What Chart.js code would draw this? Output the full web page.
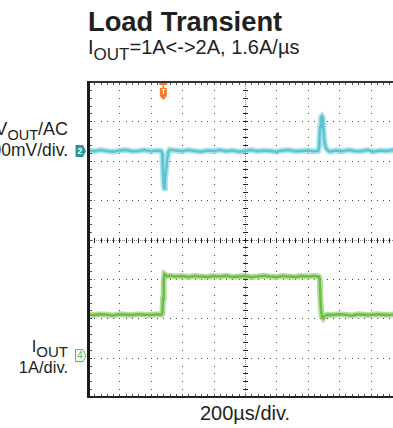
<!DOCTYPE html>
<html><head><meta charset="utf-8">
<script src="https://cdn.jsdelivr.net/npm/chart.js@4"></script>
<style>
html,body{margin:0;padding:0;width:393px;height:428px;overflow:hidden;background:#fff;font-family:"Liberation Sans",Arial,sans-serif;color:#231f20}
.t{position:absolute;white-space:nowrap}
#wrap{position:absolute;left:70px;top:80px;width:336px;height:320px}
</style></head><body>
<div class="t" style="left:88px;top:8.3px;font-size:27.3px;line-height:27.3px;font-weight:bold">Load Transient</div>
<div class="t" style="left:88px;top:37.4px;font-size:20px;line-height:20px">I<span style="font-size:17px;position:relative;top:5.7px">OUT</span>=1A&lt;-&gt;2A, 1.6A/µs</div>
<div class="t" style="right:325px;top:120.3px;font-size:18px;line-height:18px">V<span style="font-size:14.5px;position:relative;top:4.5px">OUT</span>/AC</div>
<div class="t" style="right:325px;top:141.7px;font-size:17.5px;line-height:17.5px">100mV/div.</div>
<div class="t" style="right:325px;top:338.3px;font-size:16.5px;line-height:16.5px">I<span style="font-size:15px;position:relative;top:4.4px">OUT</span></div>
<div class="t" style="right:325px;top:359.3px;font-size:16.5px;line-height:16.5px">1A/div.</div>
<div class="t" style="left:245px;top:403.2px;font-size:20px;line-height:20px;transform:translateX(-50%)">200µs/div.</div>
<div id="wrap"><canvas id="c"></canvas></div>
<script>
// ---- scope settings ----
const timePerDivUs = 200;
const voutMvPerDiv = 100;
const voutRefDiv = 2.25;   // channel 2 ground marker position (divisions above centre)
const ioutAPerDiv = 1;
const ioutRefDiv = -3;     // channel 4 ground marker position
const triggerUs = 480;

// ---- channel 2 : VOUT (AC, mV) ----
const voutTimeUs = [0,40,80,120,160,200,240,280,320,360,400,440,
  466,472,477,482,486,490,495,500,506,512,520,
  560,600,640,680,720,760,800,840,880,920,960,1000,1040,1080,1120,1160,1200,1240,1280,1320,1360,1400,1440,
  1466,1472,1478,1484,1490,1496,1502,1508,1516,1526,1540,
  1580,1620,1660,1700,1740,1780,1820,1860,1900,1940,1980,2000];
const voutMv = [1,-1,2,0,-2,1,2,-1,0,2,-1,1,
  0,-6,-45,-88,-95,-75,-55,-40,-18,-2,3,
  1,-1,2,0,-2,1,0,2,-1,1,-2,0,2,-1,1,0,-2,1,2,-1,0,1,-1,
  0,10,60,85,88,84,38,18,7,2,-2,
  1,-1,2,0,-1,2,-2,1,0,2,-1,1];

// ---- channel 4 : IOUT (A) ----
const ioutTimeUs = [0,40,80,120,160,200,240,280,320,360,400,440,
  468,474,478,482,487,494,502,520,
  560,600,640,680,720,760,800,840,880,920,960,1000,1040,1080,1120,1160,1200,1240,1280,1320,1360,1400,1440,
  1470,1476,1481,1486,1491,1498,1506,1516,1530,
  1560,1600,1640,1680,1720,1760,1800,1840,1880,1920,1960,2000];
const ioutA = [1.09,1.08,1.10,1.09,1.07,1.10,1.09,1.08,1.10,1.09,1.08,1.10,
  1.09,1.12,1.5,1.95,2.12,2.10,2.07,2.08,
  2.06,2.07,2.05,2.07,2.06,2.05,2.07,2.06,2.08,2.05,2.06,2.07,2.05,2.06,2.08,2.06,2.05,2.07,2.06,2.05,2.07,2.06,2.07,
  2.06,2.0,1.45,1.15,1.03,1.0,1.05,1.08,1.09,
  1.08,1.10,1.09,1.07,1.10,1.09,1.08,1.10,1.09,1.08,1.10,1.09];

const vPts = voutTimeUs.map((t,i)=>({x:t,y:voutMv[i]}));
const iPts = ioutTimeUs.map((t,i)=>({x:t,y:ioutA[i]}));

const scopePlugin = {
  id:'scope',
  beforeDatasetsDraw(chart){
    const {ctx, chartArea:a, scales:{x, yI}} = chart;
    const xp = d => x.getPixelForValue(d*timePerDivUs);
    const yp = d => yI.getPixelForValue((d - ioutRefDiv)*ioutAPerDiv);
    ctx.save();
    // dotted grid
    ctx.fillStyle = '#4a4a4a';
    for (let i=1;i<10;i++){
      if (i===5) continue;
      const X = Math.round(xp(i));
      for (let k=0;k<=40;k++){ const Y=Math.round(yp(-4+k/5)); ctx.fillRect(X,Y,1,1); }
    }
    for (let j=-3;j<=3;j++){
      if (j===0) continue;
      const Y = Math.round(yp(j));
      for (let k=0;k<=50;k++){ const X=Math.round(xp(k/5)); ctx.fillRect(X,Y,1,1); }
    }
    // centre cross
    const cx = Math.round(xp(5)), cy = Math.round(yp(0));
    ctx.fillStyle = '#8a8a8a';
    for (let Y=a.top; Y<a.bottom; Y+=2) ctx.fillRect(cx,Y,1,1);
    for (let X=a.left; X<a.right; X+=2) ctx.fillRect(X,cy,1,1);
    ctx.fillStyle = '#222';
    for (let k=0;k<=40;k++){ const Y=Math.round(yp(-4+k/5)); ctx.fillRect(cx-2,Y,5,1); }
    for (let k=0;k<=50;k++){ const X=Math.round(xp(k/5)); ctx.fillRect(X,cy-2,1,5); }
    ctx.restore();
  },
  afterDatasetsDraw(chart){
    const {ctx, chartArea:a, scales:{x, yV, yI}} = chart;
    const xp = d => x.getPixelForValue(d*timePerDivUs);
    const yp = d => yI.getPixelForValue((d - ioutRefDiv)*ioutAPerDiv);
    ctx.save();
    const w = a.right - a.left;
    // borders
    ctx.fillStyle = '#333';
    ctx.fillRect(a.left, a.top-1, w, 2);
    ctx.fillStyle = '#222';
    ctx.fillRect(a.left, a.bottom-1, w, 2);
    ctx.fillStyle = '#1a1a1a';
    ctx.fillRect(a.left-1, a.top-1, 3, a.bottom-a.top+2);
    // border minor ticks
    ctx.fillStyle = '#555';
    for (let k=1;k<=50;k++){ const X=Math.round(xp(k/5)); ctx.fillRect(X,a.top+1,1,2); ctx.fillRect(X,a.bottom-3,1,2); }
    for (let k=1;k<40;k++){ const Y=Math.round(yp(-4+k/5)); ctx.fillRect(a.left+2,Y,2,1); }
    // channel 2 marker
    const y2 = yV.getPixelForValue(0);
    ctx.fillStyle = '#2b9898';
    ctx.beginPath();
    ctx.moveTo(a.left-12.5, y2-6); ctx.lineTo(a.left-5, y2-6); ctx.lineTo(a.left-2, y2);
    ctx.lineTo(a.left-5, y2+6); ctx.lineTo(a.left-12.5, y2+6); ctx.closePath(); ctx.fill();
    ctx.fillStyle = '#fff'; ctx.font = 'bold 9px "Liberation Sans", Arial';
    ctx.textAlign = 'center'; ctx.textBaseline = 'middle';
    ctx.fillText('2', a.left-8, y2+0.5);
    // channel 4 marker
    const y4 = yI.getPixelForValue(0) - 2;
    ctx.strokeStyle = '#4db848'; ctx.lineWidth = 1;
    ctx.beginPath();
    ctx.moveTo(a.left-12.5, y4-6); ctx.lineTo(a.left-5, y4-6); ctx.lineTo(a.left-2, y4);
    ctx.lineTo(a.left-5, y4+6); ctx.lineTo(a.left-12.5, y4+6); ctx.closePath(); ctx.stroke();
    ctx.fillStyle = '#4db848'; ctx.font = '10px "Liberation Sans", Arial';
    ctx.fillText('4', a.left-8, y4+0.5);
    // trigger marker
    const tx = x.getPixelForValue(triggerUs);
    ctx.fillStyle = '#f27b2e';
    ctx.fillRect(tx-4, a.top+1, 8, 2);
    ctx.fillRect(tx-0.75, a.top+3, 1.5, 4);
    ctx.beginPath();
    ctx.moveTo(tx-3.5, a.top+6); ctx.lineTo(tx+3.5, a.top+6); ctx.lineTo(tx+3.5, a.top+14);
    ctx.lineTo(tx, a.top+18); ctx.lineTo(tx-3.5, a.top+14); ctx.closePath(); ctx.fill();
    ctx.fillStyle = '#fff'; ctx.font = 'bold 7px "Liberation Sans", Arial';
    ctx.fillText('T', tx, a.top+10.5);
    ctx.restore();
  }
};

new Chart(document.getElementById('c'), {
  type:'line',
  data:{ datasets:[
    {data:vPts, yAxisID:'yV', borderColor:'#5cc4d0', borderWidth:2.5, pointRadius:0, tension:0},
    {data:vPts, yAxisID:'yV', borderColor:'rgba(120,208,218,0.6)', borderWidth:6, pointRadius:0, tension:0},
    {data:iPts, yAxisID:'yI', borderColor:'#6cbd45', borderWidth:2.5, pointRadius:0, tension:0},
    {data:iPts, yAxisID:'yI', borderColor:'rgba(130,200,90,0.6)', borderWidth:6, pointRadius:0, tension:0}
  ]},
  options:{
    responsive:true, maintainAspectRatio:false, animation:false,
    layout:{padding:{left:18,top:2,right:4,bottom:3}},
    plugins:{legend:{display:false}, tooltip:{enabled:false}},
    scales:{
      x:{type:'linear', min:0, max:10*timePerDivUs, display:false},
      yV:{min:-(4+voutRefDiv)*voutMvPerDiv, max:(4-voutRefDiv)*voutMvPerDiv, display:false},
      yI:{min:-(4+ioutRefDiv)*ioutAPerDiv, max:(4-ioutRefDiv)*ioutAPerDiv, display:false}
    }
  },
  plugins:[scopePlugin]
});
</script>
</body></html>
